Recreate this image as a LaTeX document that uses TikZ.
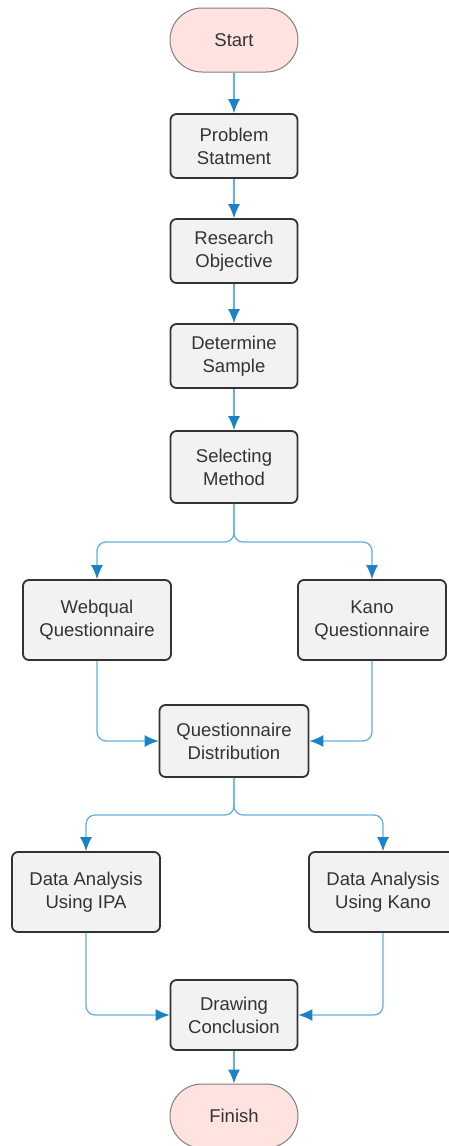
\documentclass[tikz,border=0pt]{standalone}
\usepackage{fontspec}
\setmainfont{Liberation Sans}
\usetikzlibrary{arrows.meta}
\definecolor{boxfill}{HTML}{F2F2F2}
\definecolor{boxline}{HTML}{333333}
\definecolor{termfill}{HTML}{FFE3E0}
\definecolor{termline}{HTML}{7F7F7F}
\definecolor{flowline}{HTML}{62B0E0}
\definecolor{flowtip}{HTML}{1B83C5}
\begin{document}
\begin{tikzpicture}[x=1pt, y=-1pt,
	font=\fontsize{18.5}{23}\selectfont,
	stepbox/.style={rectangle, align=center, fill=boxfill, draw=boxline, line width=1.8pt, rounded corners=6pt, minimum width=127pt, minimum height=64pt, inner sep=0pt, text=boxline},
	terminal/.style={rectangle, align=center, fill=termfill, draw=termline, line width=1pt, rounded corners=32pt, minimum width=128pt, minimum height=64pt, inner sep=0pt, text=boxline},
	flow/.style={draw=flowline, line width=1.3pt, rounded corners=9pt, -{Latex[length=14pt, width=12pt, color=flowtip]}}]
	\useasboundingbox (0, 0) rectangle (448, 1146);
	%Nodes:
	\node[terminal] (start) at (234, 40) {Start};
	\node[stepbox] (problem) at (234, 146) {Problem\\Statment};
	\node[stepbox] (objective) at (234, 251) {Research\\Objective};
	\node[stepbox] (sample) at (234, 356) {Determine\\Sample};
	\node[stepbox, minimum height=72pt] (method) at (234, 467) {Selecting\\Method};
	\node[stepbox, minimum width=148pt, minimum height=80pt] (webqual) at (97, 620) {Webqual\\Questionnaire};
	\node[stepbox, minimum width=148pt, minimum height=80pt] (kano) at (372, 620) {Kano\\Questionnaire};
	\node[stepbox, minimum width=149pt, minimum height=72pt] (distrib) at (234, 741) {Questionnaire\\Distribution};
	\node[stepbox, minimum width=148pt, minimum height=80pt] (ipa) at (86, 892) {Data Analysis\\Using IPA};
	\node[stepbox, minimum width=148pt, minimum height=80pt] (kanoda) at (383, 892) {Data Analysis\\Using Kano};
	\node[stepbox, minimum height=70pt] (conclusion) at (234, 1015) {Drawing\\Conclusion};
	\node[terminal] (finish) at (234, 1116) {Finish};
	\coordinate (split1) at (234, 542);
	\coordinate (split2) at (234, 815);
	%Edges:
	\draw[flow] (start) -- (problem);
	\draw[flow] (problem) -- (objective);
	\draw[flow] (objective) -- (sample);
	\draw[flow] (sample) -- (method);
	\draw[flow] (method.south) -- (split1) -| (webqual.north);
	\draw[flow] (method.south) -- (split1) -| (kano.north);
	\draw[flow] (webqual.south) |- (distrib.west);
	\draw[flow] (kano.south) |- (distrib.east);
	\draw[flow] (distrib.south) -- (split2) -| (ipa.north);
	\draw[flow] (distrib.south) -- (split2) -| (kanoda.north);
	\draw[flow] (ipa.south) |- (conclusion.west);
	\draw[flow] (kanoda.south) |- (conclusion.east);
	\draw[flow] (conclusion) -- (finish);
\end{tikzpicture}
\end{document}
